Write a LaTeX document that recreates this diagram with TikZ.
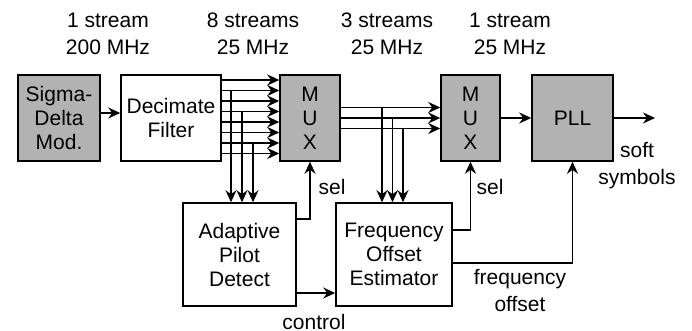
\documentclass[tikz,border=0pt]{standalone}
\usepackage{fontspec}
\setmainfont{Liberation Sans}
\usetikzlibrary{arrows.meta}
\begin{document}
\begin{tikzpicture}[x=0.5pt, y=-0.5pt, line width=0.75pt,
    >={Stealth[length=6pt,width=5.5pt]},
    blk/.style={draw, rectangle, align=center, inner sep=0pt, font=\fontsize{10.5}{12}\selectfont},
    shaded/.style={blk, fill=gray!60},
    lbl/.style={align=center, inner sep=0pt, font=\fontsize{10.5}{13.5}\selectfont}]
    \useasboundingbox (0,0) rectangle (692,331);

    % Top labels
    \node[lbl] (rate1) at (108,34) {1 stream\\200 MHz};
    \node[lbl] (rate2) at (253,34) {8 streams\\25 MHz};
    \node[lbl] (rate3) at (387,34) {3 streams\\25 MHz};
    \node[lbl] (rate4) at (510,34) {1 stream\\25 MHz};

    % Blocks
    \node[shaded, minimum width=41pt, minimum height=43pt] (sdm) at (59,118) {Sigma-\\Delta\\Mod.};
    \node[blk, minimum width=50pt, minimum height=43pt] (dec) at (171,118) {Decimate\\Filter};
    \node[shaded, minimum width=30pt, minimum height=43pt] (muxa) at (310,118) {M\\U\\X};
    \node[shaded, minimum width=29.5pt, minimum height=43pt] (muxb) at (470.5,118) {M\\U\\X};
    \node[shaded, minimum width=40.5pt, minimum height=43pt] (pll) at (572.5,118) {PLL};
    \node[blk, minimum width=56.5pt, minimum height=51.5pt] (apd) at (239.5,254.5) {Adaptive\\Pilot\\Detect};
    \node[blk, minimum width=58pt, minimum height=51.5pt] (foe) at (394,254.5) {Frequency\\Offset\\Estimator};
    \coordinate (out) at (655,118);

    % Main path
    \draw[->] (sdm.east |- 0,113) -- (dec.west |- 0,113);
    \draw[->] (muxb.east) -- (pll.west);
    \draw[->] (pll.east) -- (out);

    % 8 streams into first MUX
    \foreach \y in {80,90.5,...,154} \draw[->] (dec.east |- 0,\y) -- (muxa.west |- 0,\y);
    \foreach \x/\y in {231/90.5, 242/111.5, 253/143} \draw[->] (\x,\y) -- (apd.north -| \x,0);

    % 3 streams into second MUX
    \foreach \y in {107.5,118,128.5} \draw[->] (muxa.east |- 0,\y) -- (muxb.west |- 0,\y);
    \foreach \x/\y in {382/107.5, 392.5/118, 403/128.5} \draw[->] (\x,\y) -- (foe.north -| \x,0);

    % Control lines
    \draw[->] (apd.east |- 0,219) -| (muxa.south);
    \draw[->] (apd.east |- 0,293) -- (foe.west |- 0,293);
    \draw[->] (foe.east |- 0,230) -| (muxb.south);
    \draw[->] (foe.east |- 0,263) -| (pll.south);

    % Line labels
    \node[lbl] (sela) at (332,187) {sel};
    \node[lbl] (selb) at (490,187) {sel};
    \node[lbl] (ctrl) at (314,322) {control};
    \node[lbl] (fofs) at (520,291) {frequency\\offset};
    \node[lbl] (soft) at (637,166) {soft\\symbols};
\end{tikzpicture}
\end{document}
